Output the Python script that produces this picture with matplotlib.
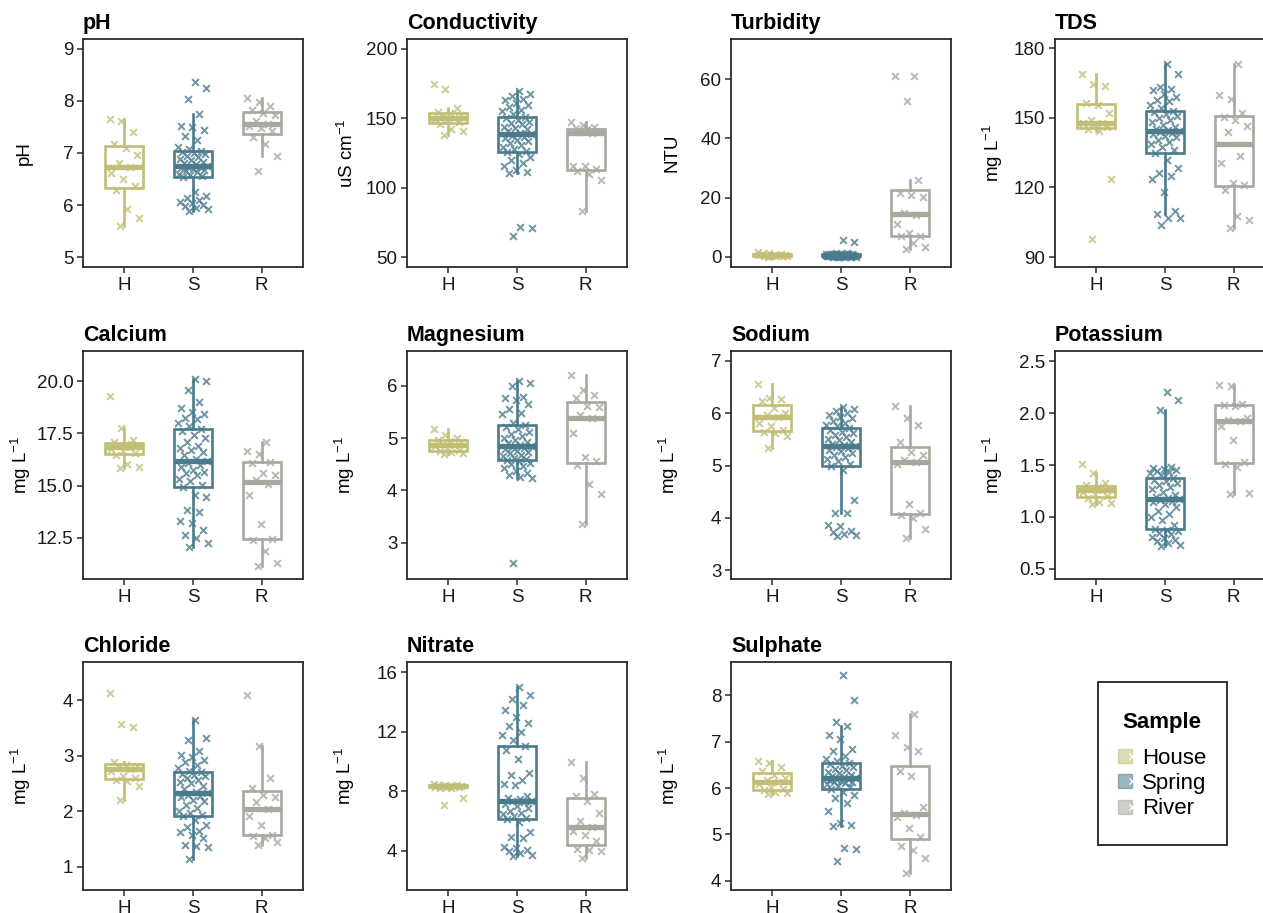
import numpy as np
import matplotlib
matplotlib.use('Agg')
import matplotlib.pyplot as plt
from matplotlib.lines import Line2D
from matplotlib.patches import Rectangle
from matplotlib.legend_handler import HandlerTuple

plt.rcParams['font.family'] = ['Liberation Sans', 'DejaVu Sans']
plt.rcParams['mathtext.fontset'] = 'custom'
plt.rcParams['mathtext.rm'] = 'Liberation Sans'
plt.rcParams['mathtext.it'] = 'Liberation Sans:italic'

# ---------------- data ----------------
categories = ['H', 'S', 'R']
sample_names = ['House', 'Spring', 'River']
legend_title = 'Sample'
colors = ['#C2BE78', '#4A7B8D', '#A8A89F']

titles = ['pH', 'Conductivity', 'Turbidity', 'TDS', 'Calcium', 'Magnesium',
          'Sodium', 'Potassium', 'Chloride', 'Nitrate', 'Sulphate']
ylabels = ['pH', 'uS cm$^{-1}$', 'NTU', 'mg L$^{-1}$', 'mg L$^{-1}$', 'mg L$^{-1}$',
           'mg L$^{-1}$', 'mg L$^{-1}$', 'mg L$^{-1}$', 'mg L$^{-1}$', 'mg L$^{-1}$']

ph_H = [5.60, 5.75, 5.93, 6.28, 6.36, 6.50, 6.62, 6.74, 6.80, 6.97, 7.10, 7.18, 7.40, 7.62, 7.66]
ph_S = [5.88, 5.92, 5.95, 5.98, 6.00, 6.03, 6.06, 6.10, 6.13, 6.18, 6.25,
        6.53, 6.55, 6.58, 6.60, 6.63, 6.65, 6.68, 6.70, 6.72, 6.73, 6.74,
        6.75, 6.78, 6.80, 6.83, 6.86, 6.88, 6.92, 6.95, 6.98, 7.00, 7.02,
        7.04, 7.08, 7.12, 7.25, 7.33, 7.45, 7.50, 7.52, 7.75, 8.04, 8.24, 8.36]
ph_R = [6.66, 6.94, 7.18, 7.31, 7.43, 7.48, 7.52, 7.56, 7.62, 7.73, 7.76, 7.82, 7.90, 7.98, 8.05]

cond_H = [137.8, 141.0, 142.0, 146.0, 147.4, 148.5, 149.5, 150.5, 151.5, 152.5, 153.5, 154.7, 157.7, 171.3, 174.4]
cond_S = [65.3, 71.0, 72.0, 110.5, 111.0, 113.0, 116.0, 118.0, 120.0, 122.0, 124.0,
          125.4, 126.5, 128.0, 129.5, 130.5, 132.0, 133.5, 134.5, 135.5, 136.5, 137.5,
          138.5, 139.5, 140.5, 142.0, 143.0, 144.0, 145.5, 146.5, 147.5, 149.0, 150.0,
          151.0, 153.0, 155.0, 156.0, 158.0, 159.5, 161.0, 163.0, 164.0, 166.0, 167.5, 169.5]
cond_R = [83.5, 105.5, 109.6, 112.0, 113.4, 115.5, 115.8, 139.5, 140.3, 141.0, 142.0, 143.2, 144.0, 145.0, 147.4]

turb_H = [0.1, 0.2, 0.3, 0.35, 0.4, 0.45, 0.5, 0.55, 0.6, 0.7, 0.8, 0.9, 1.0, 1.3, 1.8]
turb_S = [0.02, 0.05, 0.08, 0.10, 0.12, 0.14, 0.16, 0.18, 0.20, 0.22, 0.24,
          0.25, 0.27, 0.29, 0.31, 0.33, 0.35, 0.37, 0.39, 0.41, 0.43, 0.45,
          0.47, 0.50, 0.52, 0.55, 0.58, 0.60, 0.63, 0.66, 0.70, 0.74, 0.78,
          0.82, 0.86, 0.90, 0.95, 1.00, 1.05, 1.10, 1.15, 1.25, 1.40, 5.00, 5.80]
turb_R = [2.8, 3.4, 4.8, 7.0, 7.2, 8.2, 11.0, 14.2, 14.9, 20.2, 21.0, 21.4, 25.8, 52.5, 61.0, 61.1]

tds_H = [97.6, 123.5, 144.4, 145.0, 145.8, 147.0, 147.6, 147.9, 149.0, 152.0, 155.5, 156.5, 163.7, 164.6, 168.9]
tds_S = [104.0, 106.6, 106.8, 108.7, 109.7, 117.8, 123.8, 125.0, 126.0, 128.5, 131.8,
         134.9, 136.0, 137.5, 138.5, 139.5, 140.5, 141.5, 142.0, 143.0, 143.5, 144.0,
         144.3, 144.8, 145.3, 146.0, 147.0, 148.0, 149.0, 150.0, 150.8, 151.5, 152.3,
         152.9, 154.0, 155.5, 157.0, 157.7, 159.0, 160.0, 161.8, 162.5, 163.2, 169.0, 173.2]
tds_R = [102.7, 105.8, 107.6, 119.0, 121.2, 122.0, 130.3, 133.5, 143.7, 146.3, 149.0, 150.5, 152.0, 158.0, 159.8, 173.2]

ca_H = [15.85, 15.89, 16.02, 16.45, 16.55, 16.65, 16.75, 16.85, 16.90, 16.95, 17.00, 17.08, 17.20, 17.78, 19.28]
ca_S = [12.05, 12.24, 12.50, 12.65, 12.90, 13.20, 13.33, 13.75, 13.85, 14.45, 14.55,
        14.93, 15.05, 15.20, 15.30, 15.50, 15.60, 15.65, 15.75, 15.90, 16.00, 16.10,
        16.16, 16.30, 16.45, 16.60, 16.70, 16.80, 16.90, 17.10, 17.30, 17.45, 17.60,
        17.70, 17.85, 18.00, 18.20, 18.25, 18.45, 18.55, 18.70, 19.00, 19.57, 20.00, 20.10]
ca_R = [11.17, 11.28, 11.88, 12.42, 12.45, 13.17, 14.53, 15.10, 15.25, 15.50, 15.62, 16.10, 16.15, 16.50, 16.66, 17.09]

mg_H = [4.70, 4.72, 4.73, 4.75, 4.77, 4.80, 4.84, 4.86, 4.88, 4.92, 4.95, 4.97, 5.00, 5.05, 5.17]
mg_S = [2.62, 4.23, 4.26, 4.30, 4.34, 4.38, 4.43, 4.47, 4.50, 4.53, 4.56,
        4.58, 4.60, 4.62, 4.65, 4.68, 4.71, 4.74, 4.76, 4.79, 4.81, 4.83,
        4.84, 4.87, 4.90, 4.93, 4.97, 5.00, 5.04, 5.08, 5.12, 5.17, 5.21,
        5.24, 5.28, 5.45, 5.47, 5.55, 5.65, 5.72, 5.77, 5.78, 6.00, 6.05, 6.08]
mg_R = [3.36, 3.93, 4.13, 4.48, 4.56, 4.64, 5.10, 5.38, 5.44, 5.60, 5.62, 5.76, 5.83, 5.92, 6.21]

na_H = [5.34, 5.56, 5.62, 5.65, 5.67, 5.75, 5.82, 5.93, 5.96, 6.00, 6.10, 6.23, 6.28, 6.30, 6.56]
na_S = [3.65, 3.68, 3.70, 3.72, 3.75, 3.85, 3.87, 4.09, 4.10, 4.34, 4.92,
        4.99, 5.02, 5.08, 5.12, 5.16, 5.20, 5.24, 5.27, 5.30, 5.33, 5.35,
        5.37, 5.39, 5.42, 5.45, 5.48, 5.51, 5.55, 5.58, 5.62, 5.65, 5.68,
        5.71, 5.75, 5.78, 5.82, 5.86, 5.90, 5.93, 5.96, 6.00, 6.04, 6.08, 6.12]
na_R = [3.62, 3.79, 4.00, 4.05, 4.09, 4.26, 5.02, 5.06, 5.10, 5.20, 5.25, 5.45, 5.77, 5.90, 6.13]

k_H = [1.12, 1.13, 1.14, 1.18, 1.20, 1.22, 1.24, 1.26, 1.27, 1.28, 1.29, 1.31, 1.33, 1.42, 1.51]
k_S = [0.72, 0.73, 0.75, 0.77, 0.78, 0.80, 0.81, 0.83, 0.84, 0.86, 0.87,
       0.886, 0.92, 0.97, 1.00, 1.03, 1.06, 1.09, 1.12, 1.14, 1.15, 1.16,
       1.17, 1.18, 1.19, 1.21, 1.24, 1.27, 1.29, 1.31, 1.33, 1.35, 1.36,
       1.375, 1.40, 1.42, 1.43, 1.44, 1.45, 1.46, 1.47, 1.48, 2.03, 2.13, 2.20]
k_R = [1.22, 1.23, 1.48, 1.51, 1.53, 1.74, 1.88, 1.92, 1.93, 1.95, 2.07, 2.08, 2.09, 2.26, 2.27]

cl_H = [2.21, 2.46, 2.55, 2.57, 2.59, 2.64, 2.72, 2.77, 2.79, 2.82, 2.84, 2.88, 3.51, 3.57, 4.13]
cl_S = [1.13, 1.35, 1.38, 1.40, 1.52, 1.58, 1.62, 1.65, 1.72, 1.76, 1.85,
        1.91, 1.93, 1.96, 2.00, 2.05, 2.12, 2.18, 2.21, 2.25, 2.28, 2.30,
        2.32, 2.35, 2.40, 2.45, 2.50, 2.53, 2.57, 2.60, 2.63, 2.66, 2.68,
        2.70, 2.73, 2.78, 2.83, 2.88, 2.93, 2.97, 3.02, 3.08, 3.28, 3.32, 3.65]
cl_R = [1.39, 1.45, 1.52, 1.56, 1.58, 1.75, 1.91, 2.04, 2.17, 2.25, 2.30, 2.42, 2.60, 3.17, 4.10]

no3_H = [7.08, 7.53, 8.22, 8.25, 8.27, 8.29, 8.31, 8.33, 8.35, 8.36, 8.38, 8.40, 8.42, 8.44, 8.46]
no3_S = [3.65, 3.72, 3.85, 3.95, 4.05, 4.15, 4.25, 4.85, 4.95, 5.25, 5.90,
         6.13, 6.20, 6.30, 6.45, 6.55, 6.70, 6.85, 7.00, 7.15, 7.25, 7.32,
         7.37, 7.45, 7.55, 7.70, 8.40, 8.50, 8.75, 9.10, 9.20, 10.20, 10.80,
         11.06, 11.45, 11.80, 12.00, 12.40, 12.60, 13.00, 13.50, 13.80, 14.20, 14.45, 15.00]
no3_R = [3.48, 4.00, 4.05, 4.11, 4.65, 5.06, 5.35, 5.62, 6.02, 6.56, 7.35, 7.70, 7.80, 8.88, 10.00]

so4_H = [5.88, 5.90, 5.92, 5.95, 5.97, 6.02, 6.08, 6.14, 6.18, 6.22, 6.28, 6.36, 6.45, 6.55, 6.59]
so4_S = [4.43, 4.68, 4.70, 5.18, 5.20, 5.24, 5.51, 5.67, 5.78, 5.85, 5.92,
         5.98, 6.02, 6.05, 6.08, 6.10, 6.12, 6.14, 6.16, 6.18, 6.19, 6.20,
         6.21, 6.23, 6.26, 6.29, 6.32, 6.35, 6.38, 6.42, 6.45, 6.48, 6.51,
         6.54, 6.58, 6.62, 6.70, 6.80, 6.85, 7.05, 7.15, 7.33, 7.42, 7.89, 8.45]
so4_R = [4.16, 4.50, 4.67, 4.74, 4.95, 5.13, 5.38, 5.42, 5.46, 5.60, 6.25, 6.36, 6.80, 6.88, 7.15, 7.60]

ytick_values = [[5, 6, 7, 8, 9], [50, 100, 150, 200], [0, 20, 40, 60], [90, 120, 150, 180],
                [12.5, 15.0, 17.5, 20.0], [3, 4, 5, 6], [3, 4, 5, 6, 7], [0.5, 1.0, 1.5, 2.0, 2.5],
                [1, 2, 3, 4], [4, 8, 12, 16], [4, 5, 6, 7, 8]]
ytick_labels = [['5', '6', '7', '8', '9'], ['50', '100', '150', '200'], ['0', '20', '40', '60'],
                ['90', '120', '150', '180'], ['12.5', '15.0', '17.5', '20.0'], ['3', '4', '5', '6'],
                ['3', '4', '5', '6', '7'], ['0.5', '1.0', '1.5', '2.0', '2.5'], ['1', '2', '3', '4'],
                ['4', '8', '12', '16'], ['4', '5', '6', '7', '8']]

panel_data = [(ph_H, ph_S, ph_R), (cond_H, cond_S, cond_R), (turb_H, turb_S, turb_R),
              (tds_H, tds_S, tds_R), (ca_H, ca_S, ca_R), (mg_H, mg_S, mg_R),
              (na_H, na_S, na_R), (k_H, k_S, k_R), (cl_H, cl_S, cl_R),
              (no3_H, no3_S, no3_R), (so4_H, so4_S, so4_R)]

# ---------------- layout ----------------
W, Hf = 1263, 913
fig = plt.figure(figsize=(W / 100, Hf / 100), dpi=100)
fig.patch.set_facecolor('white')

col_left = [83, 407, 731, 1055]
row_top = [39, 351, 662]
ax_w, ax_h = 220, 228
ylims = [(4.81, 9.19), (43, 207), (-3.4, 73.5), (85.7, 183.9), (10.53, 21.45),
         (2.31, 6.66), (2.83, 7.19), (0.40, 2.60), (0.58, 4.69), (1.35, 16.7), (3.80, 8.72)]

dark = '#2b2b2b'
for i in range(11):
    r, c = divmod(i, 4)
    ax = fig.add_axes([col_left[c] / W, 1 - (row_top[r] + ax_h) / Hf, ax_w / W, ax_h / Hf])
    groups = panel_data[i]
    bp = ax.boxplot(groups, positions=[1, 2, 3], widths=0.55, showfliers=False,
                    showcaps=False, patch_artist=True, whis=1.5)
    for k, col in enumerate(colors):
        bp['boxes'][k].set_facecolor('white')
        bp['boxes'][k].set_edgecolor(col)
        bp['boxes'][k].set_linewidth(1.9)
        bp['boxes'][k].set_zorder(2)
        for wsk in bp['whiskers'][2 * k:2 * k + 2]:
            wsk.set_color(col)
            wsk.set_linewidth(1.9)
        bp['medians'][k].set_color(col)
        bp['medians'][k].set_linewidth(3.8)
        bp['medians'][k].set_solid_capstyle('butt')
        vals = np.asarray(groups[k])
        n = len(vals)
        offs = (((np.arange(n) * 0.6180339887 + 0.37) % 1.0) - 0.5) * 0.44
        ax.scatter(k + 1 + offs, vals, marker='x', s=24, linewidths=1.4,
                   color=col, alpha=0.8, zorder=3)
    ax.set_xlim(0.4, 3.6)
    ax.set_ylim(*ylims[i])
    ax.set_xticks([1, 2, 3])
    ax.set_xticklabels(categories)
    ax.set_yticks(ytick_values[i])
    ax.set_yticklabels(ytick_labels[i])
    ax.tick_params(axis='both', length=4, width=1.1, color=dark, labelsize=13.5,
                   labelcolor='#1a1a1a', pad=3)
    for sp in ax.spines.values():
        sp.set_color(dark)
        sp.set_linewidth(1.3)
    ax.set_title(titles[i], loc='left', fontsize=15.5, fontweight='bold', pad=7, x=0.0)
    ax.set_ylabel(ylabels[i], fontsize=13.5)
    ax.yaxis.set_label_coords(-50 / ax_w, 0.5)

# ---------------- legend ----------------
# frame
fig.patches.append(Rectangle((1098 / W, 1 - 845 / Hf), (1227 - 1098) / W, (845 - 682) / Hf,
                             transform=fig.transFigure, facecolor='white',
                             edgecolor='#222222', linewidth=1.3, zorder=1))
fig.text(1162 / W, 1 - 722 / Hf, legend_title, ha='center', va='center',
         fontsize=16, fontweight='bold', color='black', zorder=3)
handles = []
for col in colors:
    sq = Line2D([], [], linestyle='none', marker='s', markersize=10,
                markerfacecolor=col, markeredgecolor=col, alpha=0.55)
    xx = Line2D([], [], linestyle='none', marker='x', markersize=5,
                markeredgecolor='white', markeredgewidth=1.0)
    handles.append((sq, xx))
leg = fig.legend(handles, sample_names, loc='center',
                 bbox_to_anchor=(1164 / W, 1 - 783.5 / Hf), frameon=False,
                 borderpad=0.0, handlelength=0.6, handletextpad=0.3,
                 labelspacing=0.2, fontsize=16,
                 handler_map={tuple: HandlerTuple(ndivide=None, pad=0)})
leg.set_zorder(3)

fig.savefig('out.png', dpi=100, facecolor='white')
